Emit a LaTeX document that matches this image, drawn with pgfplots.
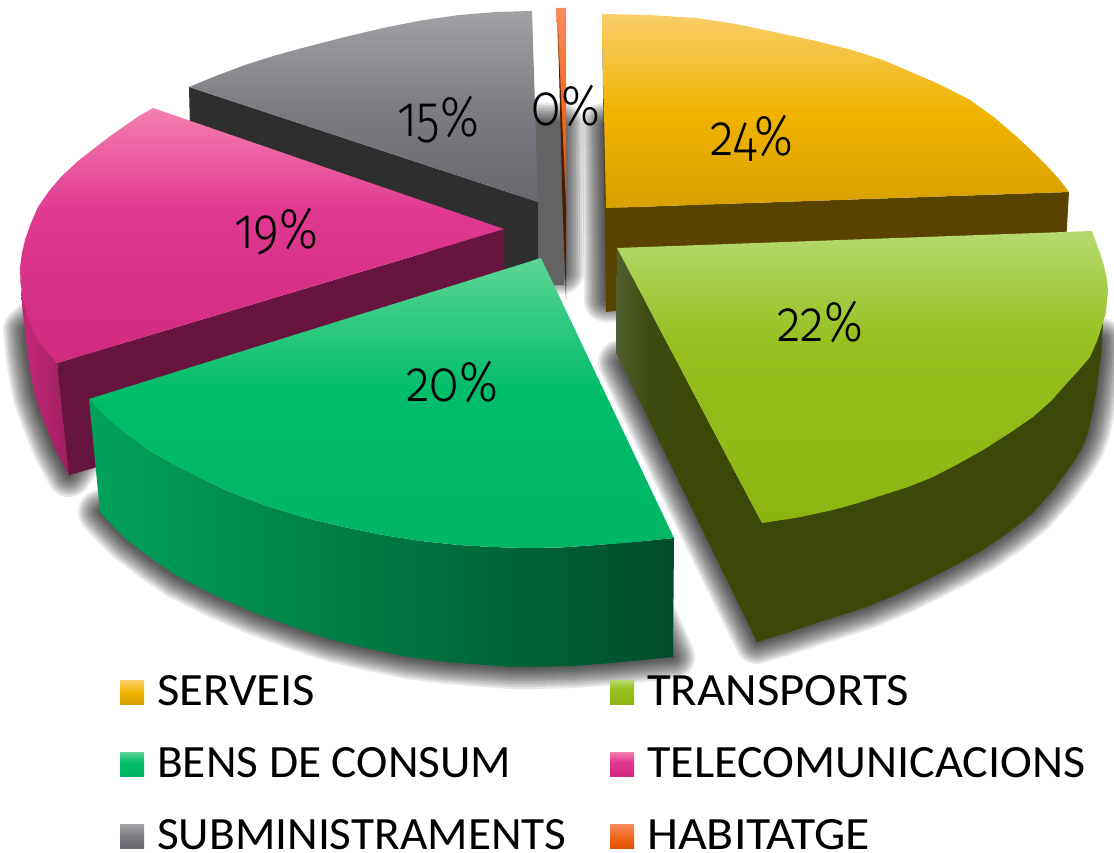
\documentclass[border=0pt]{standalone}
\usepackage{graphicx}
\usepackage{fontspec}
\setmainfont{Carlito}
\newfontfamily\pctfont[Numbers=OldStyle]{Fira Sans Light}
\usepackage{pgfplots}
\pgfplotsset{compat=1.18}

\definecolor{o1}{HTML}{D9A000}\definecolor{o2}{HTML}{F0B400}\definecolor{o3}{HTML}{F9CD6A}
\definecolor{l1}{HTML}{8DB510}\definecolor{l2}{HTML}{97C020}\definecolor{l3}{HTML}{B5D96F}
\definecolor{g1}{HTML}{00B565}\definecolor{g2}{HTML}{00BD6A}\definecolor{g3}{HTML}{5DD596}
\definecolor{m1}{HTML}{CF2A7E}\definecolor{m2}{HTML}{E03A90}\definecolor{m3}{HTML}{F47FB0}
\definecolor{s1}{HTML}{68686E}\definecolor{s2}{HTML}{7C7C82}\definecolor{s3}{HTML}{A2A2A6}
\definecolor{h1}{HTML}{E05000}\definecolor{h2}{HTML}{EE6A20}\definecolor{h3}{HTML}{F98B60}
\definecolor{ls1}{HTML}{505E30}\definecolor{ls2}{HTML}{3F4C10}\definecolor{ls3}{HTML}{3C4808}
% stops sit between 25bp and 75bp: that span is what fills the path's box
\pgfdeclareverticalshading{orangeS}{100bp}{color(0bp)=(o1); color(25bp)=(o1); color(50bp)=(o2); color(75bp)=(o3); color(100bp)=(o3)}
\pgfdeclareverticalshading{limeS}{100bp}{color(0bp)=(l1); color(25bp)=(l1); color(56bp)=(l2); color(75bp)=(l3); color(100bp)=(l3)}
\pgfdeclareverticalshading{greenS}{100bp}{color(0bp)=(g1); color(25bp)=(g1); color(52bp)=(g2); color(75bp)=(g3); color(100bp)=(g3)}
\pgfdeclareverticalshading{magS}{100bp}{color(0bp)=(m1); color(25bp)=(m1); color(55bp)=(m2); color(75bp)=(m3); color(100bp)=(m3)}
\pgfdeclareverticalshading{slateS}{100bp}{color(0bp)=(s1); color(25bp)=(s1); color(50bp)=(s2); color(75bp)=(s3); color(100bp)=(s3)}
\pgfdeclareverticalshading{habS}{100bp}{color(0bp)=(h1); color(25bp)=(h1); color(50bp)=(h2); color(75bp)=(h3); color(100bp)=(h3)}
\pgfdeclarehorizontalshading{limeSideS}{100bp}{color(0bp)=(ls1); color(25bp)=(ls1); color(36bp)=(ls2); color(50bp)=(ls3); color(100bp)=(ls3)}

% soft shadow: nested strokes that add up towards the edge
\newcommand{\softshadow}[1]{%
  \addplot[draw=black, opacity=.09, line width=44pt, line join=round] coordinates {#1} --cycle;
  \addplot[draw=black, opacity=.09, line width=40pt, line join=round] coordinates {#1} --cycle;
  \addplot[draw=black, opacity=.09, line width=36pt, line join=round] coordinates {#1} --cycle;
  \addplot[draw=black, opacity=.09, line width=32pt, line join=round] coordinates {#1} --cycle;
  \addplot[draw=black, opacity=.09, line width=28pt, line join=round] coordinates {#1} --cycle;
  \addplot[draw=black, opacity=.09, line width=24pt, line join=round] coordinates {#1} --cycle;
  \addplot[draw=black, opacity=.09, line width=20pt, line join=round] coordinates {#1} --cycle;
  \addplot[draw=black, opacity=.09, line width=16pt, line join=round] coordinates {#1} --cycle;
  \addplot[draw=black, opacity=.09, line width=12pt, line join=round] coordinates {#1} --cycle;
  \addplot[draw=black, opacity=.09, line width=8pt, line join=round] coordinates {#1} --cycle;
  \addplot[draw=black, opacity=.09, line width=4pt, line join=round] coordinates {#1} --cycle;
}
\newcommand{\pct}[3]{\node[anchor=center, inner sep=0pt] at (axis cs:#1,#2) {\scalebox{.98}[1.15]{\fontsize{50}{50}\pctfont #3\%}};}
\newcommand{\legtext}[4]{\node[anchor=base west, inner sep=0pt] at (axis cs:#1,#2) {\resizebox{#3pt}{30pt}{\fontsize{30}{30}\selectfont #4}};}

\begin{document}
\begin{tikzpicture}
\path[use as bounding box] (0,0) rectangle (1114pt,853pt);
\begin{axis}[
    at={(0,0)}, anchor=south west,
    scale only axis, width=1114pt, height=853pt,
    xmin=0, xmax=1114, ymin=0, ymax=853,
    y dir=reverse,
    hide axis,
    clip=true,
]
% shadows of the bottom faces
\softshadow{(540,125)(562,125)(562,272)(540,272)}
\softshadow{(604,125)(606,300)(700,300)(700,150)}
\softshadow{(69,475)(54,447)(42,417)(35,397)(31,377)(27,353)(25,330)(60,300)(120,400)}
\softshadow{(620,362)(757,642)(787,633)(817,623)(842,615)(867,607)(900,593)(933,577)(958,564)(983,550)(1009,532)(1033,513)(1054,489)(1073,463)(1082,448)(1088,433)(1093,411)(1097,387)(1101,355)(1101,340)(1060,340)}
\softshadow{(100,512)(113,526)(127,540)(152,559)(178,577)(216,596)(255,613)(293,627)(332,640)(370,649)(408,657)(446,662)(485,665)(511,667)(536,667)(574,666)(612,663)(642,660)(673,657)(560,400)(300,430)}

% band between the grey slice and the thin slice
\addplot[fill=black!61, draw=none] coordinates {(534,122)(562,122)(564,285)(534,285)} --cycle;

% SUBMINISTRAMENTS
\addplot[fill=black!82, draw=none] coordinates {(189,87)(538,202)(538,258)(504,280)(191,170)} --cycle;
\addplot[shading=slateS, draw=none] coordinates {(532,11)(496,12)(459,15)(421,20.5)(383,28)(345,37)(306,47)(275,55.5)(245,65)(217,75.5)(189,87)(538,202)} --cycle;

% HABITATGE
\addplot[shading=habS, draw=none] coordinates {(556,8)(566,8)(566,205)} --cycle;
\addplot[fill=black!65!h1, draw=none] coordinates {(558,30)(566,205)(566,300)(562.5,205)} --cycle;

% SERVEIS
\addplot[fill=black!63!o2, draw=none] coordinates {(602,14)(606,208)(1069,192)(1065,260)(606,312)} --cycle;
\addplot[shading=orangeS, draw=none] coordinates {(602,14)(649,15)(696,18)(736,24)(774,32)(814,40.5)(852,50)(883,60)(911,72)(941,85)(970,100)(995,118)(1017,137)(1034,153)(1048,167)(1059,179)(1069,192)(606,208)} --cycle;

% TELECOMUNICACIONS
\addplot[left color=m1!95!black, right color=m1!75!black, draw=none] coordinates {(21,290)(38,340)(57,363)(72,472)(69,475)(54,447)(42,417)(35.5,397)(31,377)(27.5,353)(25,330)(22.5,310)} --cycle;
\addplot[fill=m1!50!black, draw=none] coordinates {(57,363)(504,229)(504,270)(94,468)(69,475)} --cycle;
\addplot[shading=magS, draw=none] coordinates {(153,108)(504,229)(57,363)(47,352)(38,340)(29,321)(23,300)(20.5,283)(20,267)(22,253)(25,240)(31,223)(38,207)(49,191)(61,177)(78,161)(96,147)(111,135.5)(126,125)(139,116)} --cycle;

% TRANSPORTS
\addplot[shading=limeSideS, draw=none] coordinates {(617,248)(762,523)(757,642)(616,353)} --cycle;
\addplot[fill=ls3, draw=none] coordinates {(760,521)(1103,323)(1101,355)(1097,387)(1093,411)(1088,433)(1082,448)(1073,463)(1054,489)(1033,513)(1009,532)(983,550)(958,564)(933,577)(900,593)(867,607)(842,615)(817,623)(787,633)(757,642)(755,638)} --cycle;
\addplot[shading=limeS, draw=none] coordinates {(617,248)(1092,231)(1096,242)(1100,253)(1104,266)(1107,280)(1108,290)(1107,300)(1106,312)(1103,323)(1097,341)(1090,357)(1079,370)(1067,383)(1051,401)(1033,417)(1008,434)(983,450)(958,464)(933,477)(908,487)(883,495)(858,503)(833,510)(798,517.5)(762,523)} --cycle;

% BENS DE CONSUM
\addplot[left color=g1!90!black, right color=g1!42!black, draw=none] coordinates {(89,399)(107,418)(127,435)(152,452)(179,467)(204,480)(230,492)(267,506)(306,518)(344,527)(383,535)(421,541)(459,545)(492,547)(526,548)(561,547.5)(597,545)(635,542)(674,538)(673,657)(642,660)(612,663)(574,666)(536,667)(511,667)(485,665)(446,662)(408,657)(370,649)(332,640)(293,627)(255,613)(216,596)(179,577)(152,559)(127,540)(113,526)(100,512)} --cycle;
\addplot[shading=greenS, draw=none] coordinates {(541,258)(89,399)(107,418)(127,435)(152,452)(179,467)(204,480)(230,492)(267,506)(306,518)(344,527)(383,535)(421,541)(459,545)(492,547)(526,548)(561,547.5)(597,545)(635,542)(674,538)} --cycle;

% percentages
\pct{752}{138}{24}
\pct{820}{322}{22}
\pct{452}{382}{20}
\pct{276}{232}{19}
\pct{438}{120}{15}
\pct{566}{106}{0}

% legend
\addplot[shading=orangeS, draw=none] coordinates {(120,680)(144,680)(144,704)(120,704)} --cycle;
\addplot[shading=limeS, draw=none] coordinates {(610,680)(634,680)(634,704)(610,704)} --cycle;
\addplot[shading=greenS, draw=none] coordinates {(120,752)(144,752)(144,776)(120,776)} --cycle;
\addplot[shading=magS, draw=none] coordinates {(610,752)(634,752)(634,776)(610,776)} --cycle;
\addplot[shading=slateS, draw=none] coordinates {(120,824)(144,824)(144,848)(120,848)} --cycle;
\addplot[shading=habS, draw=none] coordinates {(610,824)(634,824)(634,848)(610,848)} --cycle;
\legtext{157}{705}{158}{SERVEIS}
\legtext{647}{705}{262}{TRANSPORTS}
\legtext{157}{777}{354}{BENS DE CONSUM}
\legtext{647}{777}{438}{TELECOMUNICACIONS}
\legtext{157}{849}{409}{SUBMINISTRAMENTS}
\legtext{647}{849}{223}{HABITATGE}
\end{axis}
\end{tikzpicture}
\end{document}
